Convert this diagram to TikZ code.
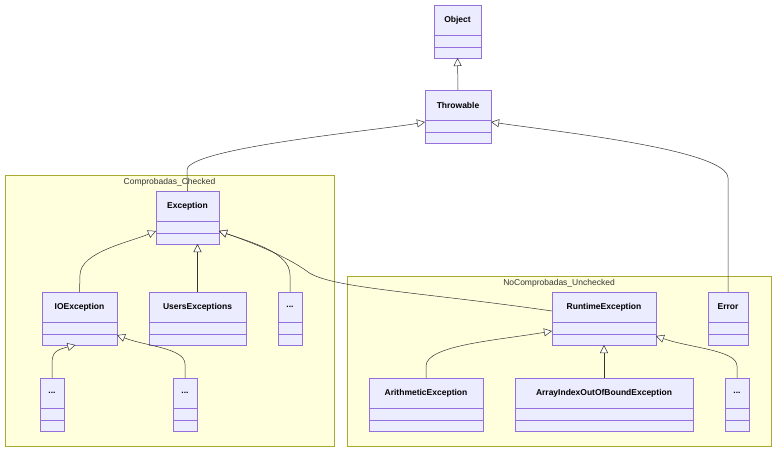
\documentclass[tikz,border=0pt]{standalone}
\usepackage{fontspec}
\setmainfont{Liberation Sans}
\usetikzlibrary{arrows.meta}
\definecolor{bfill}{HTML}{ECECFF}
\definecolor{bline}{HTML}{9370DB}
\definecolor{cfill}{HTML}{FFFFDE}
\definecolor{cline}{HTML}{AAAA33}
\definecolor{eline}{HTML}{333333}
\tikzset{
  clsbox/.style={draw=bline, fill=bfill, line width=0.8pt, inner sep=0pt, outer sep=0pt},
  clslbl/.style={font=\bfseries\fontsize{8.5}{10}\selectfont, text=black},
  clust/.style={draw=cline, fill=cfill, line width=0.7pt},
  clustlbl/.style={font=\fontsize{8.5}{10}\selectfont, text=eline},
  edge/.style={draw=eline, line width=0.5pt, -{Triangle[open, length=8pt, width=8pt, fill=white]}}
}
\newcommand{\cbox}[5]{%
  \node[clsbox, minimum width={(#4-#2)*1pt}, minimum height=53pt] (#1) at ({(#2+#4)/2},{#3+26.5}) {};
  \node[clslbl] at ({(#2+#4)/2},{#3+15}) {#5};
  \draw[bline, line width=0.8pt] (#2,{#3+30}) -- (#4,{#3+30}) (#2,{#3+42}) -- (#4,{#3+42});
}
\begin{document}
\begin{tikzpicture}[x=1pt,y=-1pt]
\useasboundingbox (0,0) rectangle (784,457);
\draw[clust] (5,175) rectangle (334,446);
\node[clustlbl] (cl1) at (169.5,182.5) {Comprobadas\_Checked};
\draw[clust] (347,276) rectangle (771,446);
\node[clustlbl] (cl2) at (559,283.5) {NoComprobadas\_Unchecked};
\cbox{Object}{434}{5}{481}{Object}
\cbox{Throwable}{425}{90}{491}{Throwable}
\cbox{Exception}{156}{191}{219}{Exception}
\cbox{IOException}{42}{292}{117}{IOException}
\cbox{Users}{149}{292}{246}{UsersExceptions}
\cbox{dotsE}{278}{292}{302}{...}
\cbox{dotsA}{40}{378}{64}{...}
\cbox{dotsB}{173}{378}{197}{...}
\cbox{Runtime}{552}{292}{656}{RuntimeException}
\cbox{Error}{708}{292}{748}{Error}
\cbox{Arith}{369}{378}{483}{ArithmeticException}
\cbox{ArrayIdx}{515}{378}{693}{ArrayIndexOutOfBoundException}
\cbox{dotsC}{725}{378}{749}{...}
\draw[edge] (Throwable.north) -- (Object.south);
\draw[edge] (Exception.north) -- (187,170) .. controls (187,148) and (380,130) .. ([yshift=-5.5pt]Throwable.west);
\draw[edge] (Error.north) -- (728,178) .. controls (728,150) and (560,132) .. ([yshift=-5.5pt]Throwable.east);
\draw[edge] (IOException.north) -- (80,275) .. controls (80,252) and (130,242) .. ([yshift=13pt]Exception.south west);
\draw[edge] (Users.north) -- (Users.north |- Exception.south);
\draw[edge] (dotsE.north) -- (290,275) .. controls (290,252) and (250,242) .. ([yshift=13pt]Exception.south east);
\draw[edge] ([yshift=7.5pt]Runtime.west) .. controls (420,292) and (330,288) .. (308,272) .. controls (285,255) and (245,240) .. ([yshift=13pt]Exception.south east);
\draw[edge] (dotsA.north) -- (52,364) .. controls (52,352) and (56,350) .. ([xshift=-4pt]IOException.south);
\draw[edge] (dotsB.north) -- (185,364) .. controls (185,348) and (145,346) .. ([yshift=10pt]IOException.south east);
\draw[edge] (Arith.north) -- (426,366) .. controls (426,345) and (500,340) .. ([yshift=14pt]Runtime.south west);
\draw[edge] (ArrayIdx.north) -- (Runtime.south);
\draw[edge] (dotsC.north) -- (737,366) .. controls (737,350) and (690,348) .. ([yshift=9pt]Runtime.south east);
\end{tikzpicture}
\end{document}
